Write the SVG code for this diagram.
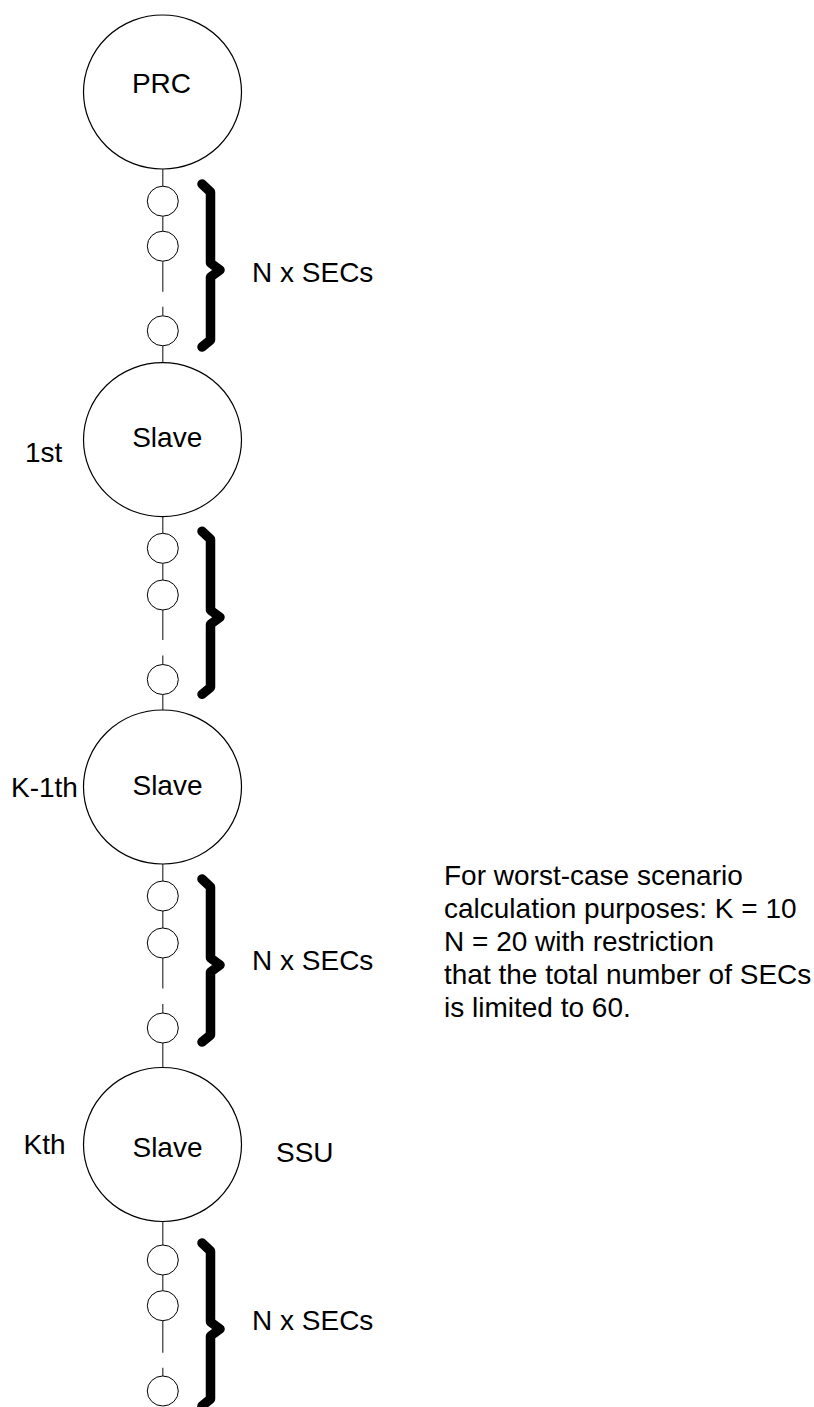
<svg xmlns="http://www.w3.org/2000/svg" width="814" height="1407" viewBox="0 0 814 1407">
<style>
.big{fill:#fff;stroke:#000;stroke-width:1.2}
.sec{fill:#fff;stroke:#000;stroke-width:1}
.ln{stroke:#333;stroke-width:1.2;fill:none}
.br{fill:none;stroke:#000;stroke-width:9.5;stroke-linecap:round;stroke-linejoin:round}
text{font-family:"Liberation Sans",Arial,sans-serif;font-size:28px;fill:#000}
.c{text-anchor:middle}
</style>
<rect width="814" height="1407" fill="#fff"/>
<g id="connectors">
<path class="ln" d="M162.8 169V186.2M162.8 216.2V231.2M162.8 261.2V291.7M162.8 306.8V315.8M162.8 345.8V362.7"/>
<path class="ln" d="M162.8 516.7V533.3M162.8 563.3V580M162.8 610V640M162.8 655.5V664.5M162.8 694.5V710"/>
<path class="ln" d="M162.8 864V881M162.8 911V928M162.8 958V988.5M162.8 1004V1013M162.8 1043V1067.5"/>
<path class="ln" d="M162.8 1221.5V1245M162.8 1275V1290.7M162.8 1320.7V1352.7M162.8 1367.7V1376"/>
</g>
<g id="brackets">
<path class="br" d="M202 184L210.5 192V263L220 270L210.5 277V340L202 347"/>
<path class="br" d="M202 531.3L210.5 539.3V610.3L220 617.3L210.5 624.3V687.3L202 694.3"/>
<path class="br" d="M202 879L210.5 887V958L220 965L210.5 972V1035L202 1042"/>
<path class="br" d="M202 1243L210.5 1251V1322L220 1329L210.5 1336V1399L202 1406"/>
</g>
<g id="prc"><ellipse class="big" cx="162.5" cy="92" rx="79" ry="77"/><text class="c" x="161.5" y="93.3">PRC</text></g>
<g id="sec1a"><ellipse class="sec" cx="162.8" cy="201.2" rx="15.5" ry="15"/></g>
<g id="sec1b"><ellipse class="sec" cx="162.8" cy="246.2" rx="15.5" ry="15"/></g>
<g id="sec1c"><ellipse class="sec" cx="162.8" cy="330.8" rx="15.5" ry="15"/></g>
<g id="slave1"><ellipse class="big" cx="162.5" cy="439.7" rx="79" ry="77"/><text class="c" x="167.2" y="446.7">Slave</text></g>
<g id="sec2a"><ellipse class="sec" cx="162.8" cy="548.3" rx="15.5" ry="15"/></g>
<g id="sec2b"><ellipse class="sec" cx="162.8" cy="595" rx="15.5" ry="15"/></g>
<g id="sec2c"><ellipse class="sec" cx="162.8" cy="679.5" rx="15.5" ry="15"/></g>
<g id="slaveK1"><ellipse class="big" cx="162.5" cy="787" rx="79" ry="77"/><text class="c" x="167.5" y="795">Slave</text></g>
<g id="sec3a"><ellipse class="sec" cx="162.8" cy="896" rx="15.5" ry="15"/></g>
<g id="sec3b"><ellipse class="sec" cx="162.8" cy="943" rx="15.5" ry="15"/></g>
<g id="sec3c"><ellipse class="sec" cx="162.8" cy="1028" rx="15.5" ry="15"/></g>
<g id="slaveK"><ellipse class="big" cx="162.5" cy="1144.5" rx="79" ry="77"/><text class="c" x="167.5" y="1156.7">Slave</text></g>
<g id="sec4a"><ellipse class="sec" cx="162.8" cy="1260" rx="15.5" ry="15"/></g>
<g id="sec4b"><ellipse class="sec" cx="162.8" cy="1305.7" rx="15.5" ry="15"/></g>
<g id="sec4c"><ellipse class="sec" cx="162.8" cy="1391" rx="15.5" ry="15"/></g>
<g id="labels">
<text x="252" y="281.7">N x SECs</text>
<text x="252" y="970">N x SECs</text>
<text x="252" y="1330">N x SECs</text>
<text x="25" y="461.7">1st</text>
<text x="11" y="796.5">K-1th</text>
<text x="23.5" y="1154">Kth</text>
<text x="276" y="1162.3">SSU</text>
</g>
<g id="note">
<text x="444" y="885">For worst-case scenario</text>
<text x="444" y="918">calculation purposes: K = 10</text>
<text x="444" y="951">N = 20 with restriction</text>
<text x="444" y="984">that the total number of SECs</text>
<text x="444" y="1017">is limited to 60.</text>
</g>
</svg>
